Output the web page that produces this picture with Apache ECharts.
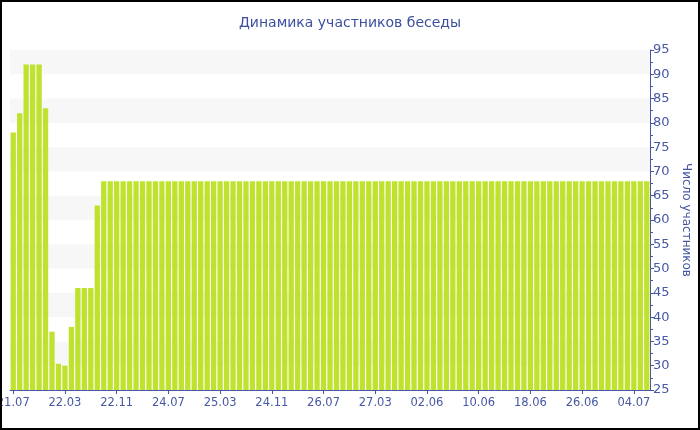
<!DOCTYPE html>
<html>
<head>
<meta charset="utf-8">
<script src="https://cdn.jsdelivr.net/npm/echarts@6/dist/echarts.min.js"></script>
<style>
html,body{margin:0;padding:0;background:#fff;}
#wrap{width:700px;height:430px;box-sizing:border-box;border:2px solid #000;position:relative;overflow:hidden;}
#chart{position:absolute;left:-2px;top:-2px;width:700px;height:430px;}
</style>
</head>
<body>
<div id="wrap"><div id="chart"></div></div>
<script>
// Visible tick labels (every 8th category)
const tickLabels = ['21.07','22.03','22.11','24.07','25.03','24.11','26.07','27.03','02.06','10.06','18.06','26.06','04.07'];

// Participant counts per snapshot (99 bars)
const participants = [
  78, 82, 92, 92, 92, 83, 37, 30.4, 30, 38, 46, 46, 46, 63,
  68, 68, 68, 68, 68, 68, 68, 68, 68, 68,
  68, 68, 68, 68, 68, 68, 68, 68, 68, 68,
  68, 68, 68, 68, 68, 68, 68, 68, 68, 68,
  68, 68, 68, 68, 68, 68, 68, 68, 68, 68,
  68, 68, 68, 68, 68, 68, 68, 68, 68, 68,
  68, 68, 68, 68, 68, 68, 68, 68, 68, 68,
  68, 68, 68, 68, 68, 68, 68, 68, 68, 68,
  68, 68, 68, 68, 68, 68, 68, 68, 68, 68,
  68, 68, 68, 68, 68
];

const labelEvery = 8;
const categories = participants.map((_, i) => (i % labelEvery === 0 ? (tickLabels[i / labelEvery] || '') : ' '.repeat(i % labelEvery)));

const title = 'Динамика участников беседы';
const yName = 'Число участников';

const blue = '#4657a3';
const chart = echarts.init(document.getElementById('chart'), null, {renderer: 'canvas'});
chart.setOption({
  animation: false,
  backgroundColor: 'transparent',
  title: {
    text: title, left: 'center', top: 11,
    textStyle: {color: '#3d4f9f', fontSize: 14, fontWeight: 'normal', fontFamily: 'DejaVu Sans'}
  },
  grid: {left: 10, right: 50, top: 50, bottom: 40, containLabel: false, outerBoundsMode: 'none'},
  xAxis: {
    type: 'category',
    data: categories,
    boundaryGap: true,
    axisLine: {lineStyle: {color: blue, width: 1}},
    axisTick: {show: true, alignWithLabel: true, interval: labelEvery - 1, length: 4, lineStyle: {color: blue}},
    axisLabel: {interval: labelEvery - 1, color: blue, fontSize: 11.5, fontFamily: 'DejaVu Sans', margin: 7, hideOverlap: false},
    splitLine: {show: false}
  },
  yAxis: {
    type: 'value',
    position: 'right',
    min: 25, max: 95, interval: 5,
    name: yName,
    nameLocation: 'middle',
    nameRotate: -90,
    nameGap: 26,
    nameTextStyle: {color: blue, fontSize: 12, fontFamily: 'DejaVu Sans'},
    axisLine: {show: true, lineStyle: {color: blue}},
    axisTick: {show: true, length: 4, lineStyle: {color: blue}},
    minorTick: {show: true, splitNumber: 2, length: 3, lineStyle: {color: blue}},
    axisLabel: {color: blue, fontSize: 13, fontFamily: 'DejaVu Sans', margin: 3},
    splitLine: {show: false},
    splitArea: {show: true, areaStyle: {color: ['rgba(255,255,255,0)', '#f7f7f7']}}
  },
  series: [{
    type: 'bar',
    data: participants,
    barCategoryGap: '18%',
    itemStyle: {color: '#bfe22e'}
  }]
});
</script>
</body>
</html>
